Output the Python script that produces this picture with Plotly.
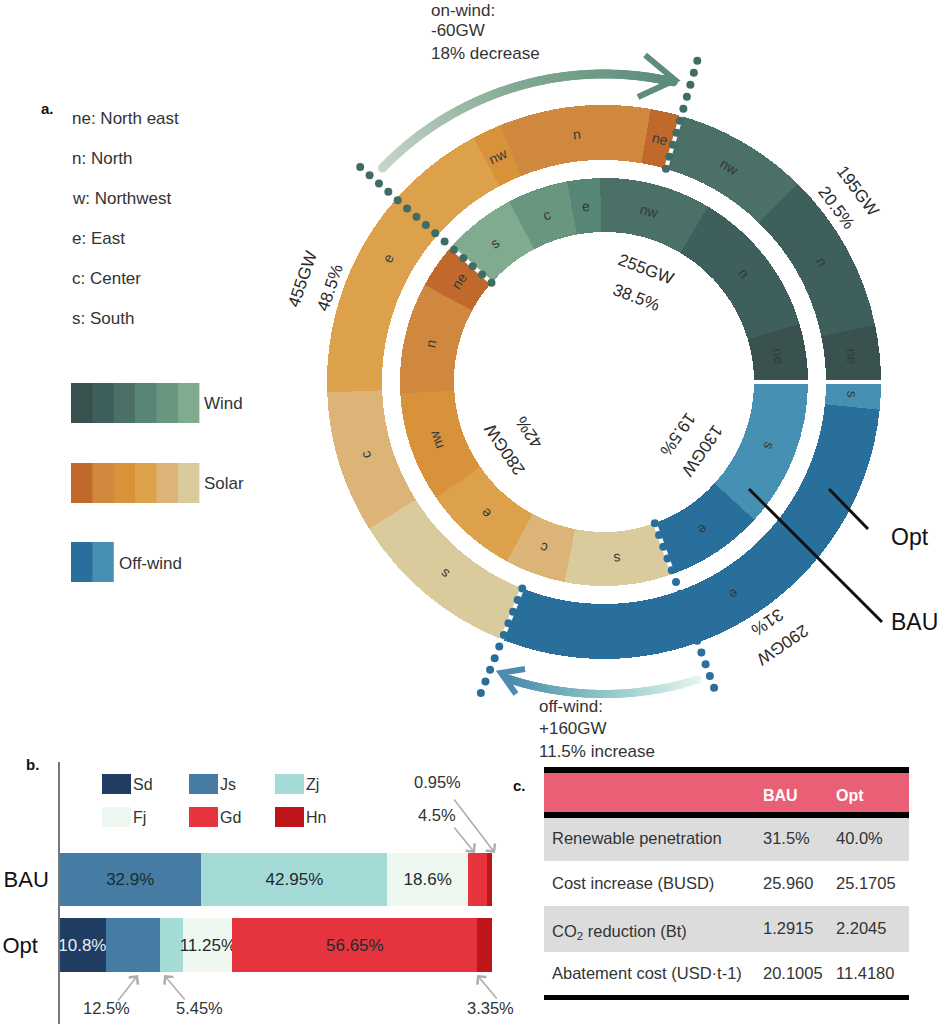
import numpy as np
import plotly.graph_objects as go

# ring shares in percent of the full circle, counter-clockwise from east
opt_regions = ["ne", "n", "nw", "ne", "n", "nw", "e", "c", "s", "e", "s"]
opt_shares = [3.3, 9.4, 7.8, 1.8, 8.8, 1.7, 17.8, 8.3, 10.1, 29.4, 1.6]
bau_regions = ["ne", "n", "nw", "e", "c", "s", "ne", "n", "nw", "e", "c", "s", "e", "s"]
bau_shares = [4.6, 11.9, 8.8, 2.6, 4.8, 5.8, 3.6, 8.8, 8.7, 7.5, 4.8, 8.6, 7.7, 11.8]

wind_colors = ["#3a524f", "#3f5f5c", "#4a7067", "#578676", "#69967f", "#80ab8f"]
solar_colors = ["#c1692c", "#cf883d", "#d8933a", "#dda14b", "#dcb477", "#d9cb9c"]
off_colors = ["#286f9b", "#4691b3"]
wind_map = dict(zip(["ne", "n", "nw", "e", "c", "s"], wind_colors))
solar_map = dict(zip(["ne", "n", "nw", "e", "c", "s"], solar_colors))
off_map = dict(zip(["e", "s"], off_colors))
opt_colors = [wind_map[r] for r in opt_regions[:3]] + [solar_map[r] for r in opt_regions[3:9]] + [off_map[r] for r in opt_regions[9:]]
bau_colors = [wind_map[r] for r in bau_regions[:6]] + [solar_map[r] for r in bau_regions[6:12]] + [off_map[r] for r in bau_regions[12:]]

# totals per technology
tech_shares_opt = [20.5, 48.5, 31.0]
tech_shares_bau = [38.5, 42.0, 19.5]
tech_gw_opt = ["195GW", "455GW", "290GW"]
tech_pct_opt = ["20.5%", "48.5%", "31%"]
tech_gw_bau = ["255GW", "280GW", "130GW"]
tech_pct_bau = ["38.5%", "42%", "19.5%"]

# panel b
provinces = ["Sd", "Js", "Zj", "Fj", "Gd", "Hn"]
province_colors = ["#1f3d63", "#467ca3", "#a5dbd6", "#eef8f0", "#e6343e", "#bd1519"]
scenarios = ["BAU", "Opt"]
bau_pct = [0, 32.9, 42.95, 18.6, 4.5, 0.95]
opt_pct = [10.8, 12.5, 5.45, 11.25, 56.65, 3.35]
bau_inside = ["", "32.9%", "42.95%", "18.6%", "", ""]
opt_inside = ["10.8%", "", "", "11.25%", "56.65%", ""]

# panel c
table_rows = ["Renewable penetration", "Cost increase (BUSD)", "CO<sub>2</sub> reduction (Bt)", "Abatement cost (USD·t-1)"]
table_bau = ["31.5%", "25.960", "1.2915", "20.1005"]
table_opt = ["40.0%", "25.1705", "2.2045", "11.4180"]

region_notes = ["ne: North east", "n: North", "w: Northwest", "e: East", "c: Center", "s: South"]

W, H = 940, 1024
CX, CY = 604, 382
FONT = "Liberation Sans"
TXT = "#333333"


def xp(x):
    return x / W


def yp(y):
    return 1 - y / H


def polar_xy(theta, r):
    a = np.radians(theta)
    return CX + r * np.cos(a), CY - r * np.sin(a)


def ring(shares, colors, r0, r1):
    edges = np.concatenate([[0], np.cumsum(shares)]) * 3.6
    return go.Barpolar(
        theta=(edges[:-1] + edges[1:]) / 2,
        width=np.diff(edges),
        r=[r1 - r0] * len(shares),
        base=r0,
        marker=dict(color=colors, line=dict(width=0)),
        hoverinfo="skip",
    )


def label(text, x, y, size=15, color=TXT, angle=0, anchor="center", bold=False):
    if bold:
        text = "<b>" + text + "</b>"
    if anchor == "left":
        x = x - 2  # annotation box has its own padding
    return dict(
        text=text, x=xp(x), y=yp(y), xref="paper", yref="paper", showarrow=False,
        font=dict(family=FONT, size=size, color=color), textangle=angle,
        xanchor=anchor, yanchor="middle",
    )


def ring_labels(regions, shares, r):
    edges = np.concatenate([[0], np.cumsum(shares)]) * 3.6
    out = []
    for name, a, b in zip(regions, edges[:-1], edges[1:]):
        mid = (a + b) / 2
        x, y = polar_xy(mid, r)
        out.append(label(name, x, y, size=14, color="#333a3a", angle=90 - mid))
    return out


def tech_labels(shares, texts, r):
    edges = np.concatenate([[0], np.cumsum(shares)]) * 3.6
    out = []
    for text, a, b in zip(texts, edges[:-1], edges[1:]):
        mid = (a + b) / 2
        x, y = polar_xy(mid, r)
        out.append(label(text, x, y, size=17, color="#2a2a2a", angle=90 - mid))
    return out


def dots(theta, r0, r1, color):
    r = np.arange(r0, r1, 12.5)
    return go.Scatterpolar(
        theta=[theta] * len(r), r=r, mode="markers", cliponaxis=False,
        marker=dict(size=8, color=color, line=dict(width=0)), hoverinfo="skip",
    )


def seam(theta, r0, r1):
    return go.Scatterpolar(
        theta=[theta, theta], r=[r0, r1], mode="lines",
        line=dict(color="white", width=4), hoverinfo="skip",
    )


def fade(stops, n):
    pos = np.linspace(0, 1, len(stops))
    rgb = np.array([[int(s[i:i + 2], 16) for i in (1, 3, 5)] for s in stops])
    t = np.linspace(0, 1, n)
    return ["rgb(%d,%d,%d)" % tuple(np.interp(v, pos, rgb[:, k]) for k in range(3)) for v in t]


def sweep(a, b, r, stops, size):
    n = 220
    return go.Scatterpolar(
        theta=np.linspace(a, b, n), r=[r] * n, mode="markers", cliponaxis=False,
        marker=dict(size=size, color=fade(stops, n), line=dict(width=0)), hoverinfo="skip",
    )


fig = go.Figure()

# panel a, rings
fig.add_trace(ring(opt_shares, opt_colors, 222, 277))
fig.add_trace(ring(bau_shares, bau_colors, 150, 204))
fig.add_trace(seam(0, 140, 295))
wind_end_opt = tech_shares_opt[0] * 3.6
off_start_opt = (tech_shares_opt[0] + tech_shares_opt[1]) * 3.6
wind_end_bau = tech_shares_bau[0] * 3.6
off_start_bau = (tech_shares_bau[0] + tech_shares_bau[1]) * 3.6
fig.add_trace(seam(wind_end_opt, 222, 277))
fig.add_trace(seam(off_start_opt, 222, 277))
fig.add_trace(seam(wind_end_bau, 150, 204))
fig.add_trace(seam(off_start_bau, 150, 204))
fig.add_trace(dots(wind_end_opt, 222, 340, "#3f6d65"))
fig.add_trace(dots(wind_end_bau, 150, 345, "#3f6d65"))
fig.add_trace(dots(off_start_opt, 222, 340, "#2a6f9b"))
fig.add_trace(dots(off_start_bau, 150, 345, "#2a6f9b"))
fig.add_trace(sweep(136, 77, 308, ["#c9d6cb", "#84ab93", "#5b8c7c"], 9))
fig.add_trace(sweep(287.5, 252, 312, ["#e8f6f0", "#8fc9c8", "#4d8cae"], 8))
for tr in fig.data:
    tr.subplot = "polar"
    tr.showlegend = False

# panel b, stacked bars
for i, (name, color, b, o) in enumerate(zip(provinces, province_colors, bau_pct, opt_pct)):
    fig.add_trace(go.Bar(
        y=scenarios, x=[b, o], name=name, orientation="h", width=0.81,
        marker=dict(color=color, line=dict(width=0)),
        text=[bau_inside[i], opt_inside[i]], textposition="inside", insidetextanchor="middle",
        constraintext="none", textangle=0, cliponaxis=False,
        textfont=dict(family=FONT, size=17, color="#e8eef3" if name == "Sd" else "#1d2a30"),
        showlegend=False, hoverinfo="x+name",
    ))

# panel c, bands are shapes so the text can sit mid-row
fig.add_trace(go.Table(
    domain=dict(x=[xp(544), xp(909)], y=[yp(1006), yp(779)]),
    columnwidth=[211, 73, 81],
    header=dict(
        values=["\u00a0", "<b>BAU</b>", "<b>Opt</b>"], height=45,
        fill_color="rgba(0,0,0,0)", line=dict(width=0), align="left",
        font=dict(family=FONT, size=16, color="white"),
    ),
    cells=dict(
        values=[table_rows, table_bau, table_opt], height=45,
        fill_color="rgba(0,0,0,0)",
        line=dict(width=0), align="left",
        font=dict(family=FONT, size=16.5, color=TXT),
    ),
))

notes = [label("a.", 41, 108, size=15, color="#111", anchor="left", bold=True),
         label("b.", 26, 764, size=15, color="#111", anchor="left", bold=True),
         label("c.", 513, 785, size=15, color="#111", anchor="left", bold=True)]
for i, t in enumerate(region_notes):
    notes.append(label(t, 72, 118 + 40 * i, size=17, anchor="left"))
notes += [label("Wind", 204, 403, size=17, anchor="left"), label("Solar", 204, 483, size=17, anchor="left"),
          label("Off-wind", 119, 563, size=17, anchor="left")]
notes += ring_labels(opt_regions, opt_shares, 249) + ring_labels(bau_regions, bau_shares, 177)
notes += tech_labels(tech_shares_opt, tech_gw_opt, 318) + tech_labels(tech_shares_opt, tech_pct_opt, 290)
notes += tech_labels(tech_shares_bau, tech_gw_bau, 120) + tech_labels(tech_shares_bau, tech_pct_bau, 90)
for t, y in zip(["on-wind:", "-60GW", "18% decrease"], [10, 30, 53]):
    notes.append(label(t, 431, y, size=17, anchor="left"))
for i, t in enumerate(["off-wind:", "+160GW", "11.5% increase"]):
    notes.append(label(t, 539, 706 + 22.5 * i, size=17, anchor="left"))
notes += [label("Opt", 891, 537, size=23, color="#111", anchor="left"),
          label("BAU", 891, 622, size=23, color="#111", anchor="left")]

# small shares of panel b, pointed at from outside the bars
for t, tx, ty, x0, y0, x1, y1 in [
    ("0.95%", 437, 782, 453, 798, 495, 853), ("4.5%", 437, 815, 453, 826, 475, 853),
    ("12.5%", 106, 1008, 117, 1002, 138, 975), ("5.45%", 199, 1008, 186, 1001, 164, 975),
    ("3.35%", 491, 1008, 498, 1000, 477, 975),
]:
    notes.append(label(t, tx, ty, size=16.5))
    notes.append(dict(
        x=xp(x1), y=yp(y1), xref="paper", yref="paper", ax=x0 - x1, ay=y0 - y1,
        axref="pixel", ayref="pixel", text="", showarrow=True, arrowhead=4,
        arrowsize=1.4, arrowwidth=1.6, arrowcolor="#aeaeae",
    ))

shapes = []


def rect(x0, y0, x1, y1, color, layer="above"):
    return dict(type="rect", xref="paper", yref="paper", x0=xp(x0), x1=xp(x1),
                y0=yp(y0), y1=yp(y1), fillcolor=color, line=dict(width=0), layer=layer)


def segment(x0, y0, x1, y1, color, width):
    return dict(type="line", xref="paper", yref="paper", x0=xp(x0), x1=xp(x1),
                y0=yp(y0), y1=yp(y1), line=dict(color=color, width=width), layer="above")


def chevron(points, color, width):
    path = "M " + " L ".join("%.4f,%.4f" % (xp(x), yp(y)) for x, y in points)
    return dict(type="path", xref="paper", yref="paper", path=path,
                line=dict(color=color, width=width), layer="above")


# colour keys of panel a
for colors, top in [(wind_colors, 383), (solar_colors, 463), (off_colors, 542)]:
    for i, c in enumerate(colors):
        # a little overlap hides the seam between two steps
        right = 71 + 21.4 * (i + 1) + (0.6 if i < len(colors) - 1 else 0)
        shapes.append(rect(71 + 21.4 * i, top, right, top + 40, c))

# colour key of panel b
for i, (name, c) in enumerate(zip(provinces, province_colors)):
    col, row = i % 3, i // 3
    left = [102, 189, 275][col]
    top = [774, 807][row]
    shapes.append(rect(left, top, left + 29, top + 20, c))
    notes.append(label(name, left + 31, top + 10, size=16, anchor="left"))

shapes += [
    segment(749, 489, 882, 622, "#111", 3),
    segment(829, 489, 868, 529, "#111", 3),
    chevron([(645, 55), (675, 80), (638, 97)], "#5b8c7c", 6),
    chevron([(525, 669), (501, 673), (516, 694)], "#4d8cae", 6),
    rect(544, 773, 909, 812, "#e95f75", layer="below"),
    rect(544, 818, 909, 861, "#dcdcdc", layer="below"),
    rect(544, 906, 909, 952, "#dcdcdc", layer="below"),
    rect(544, 767, 909, 773, "#000"),
    rect(544, 812, 909, 818, "#000"),
    rect(544, 995, 909, 1000, "#000"),
]

half = 336
fig.update_layout(
    width=W, height=H,
    margin=dict(l=0, r=0, t=0, b=0),
    paper_bgcolor="white", plot_bgcolor="rgba(0,0,0,0)",
    font=dict(family=FONT, color=TXT),
    showlegend=False,
    barmode="stack",
    polar=dict(
        domain=dict(x=[xp(CX - half), 1], y=[yp(CY + half), yp(CY - half)]),
        bgcolor="rgba(0,0,0,0)",
        barmode="overlay",
        angularaxis=dict(visible=False, direction="counterclockwise", rotation=0),
        radialaxis=dict(visible=False, range=[0, half]),
    ),
    xaxis=dict(domain=[xp(59), xp(492)], range=[0, 100], visible=False, automargin=False),
    yaxis=dict(
        domain=[0, yp(762)], anchor="free", position=xp(59), automargin=False,
        type="category", categoryorder="array", categoryarray=["Opt", "BAU"],
        range=[-1.206, 2.794], showline=True, linecolor="#777777", linewidth=1.5,
        ticks="", showgrid=False, zeroline=False, ticklabelstandoff=5,
        tickmode="array", tickvals=["Opt", "BAU"], ticktext=["Opt\u2002", "BAU"],
        tickfont=dict(family=FONT, size=22, color="#111"),
    ),
    annotations=notes,
    shapes=shapes,
)

fig.write_html("out.html", config=dict(displayModeBar=False), post_script="document.body.style.margin='0';")
